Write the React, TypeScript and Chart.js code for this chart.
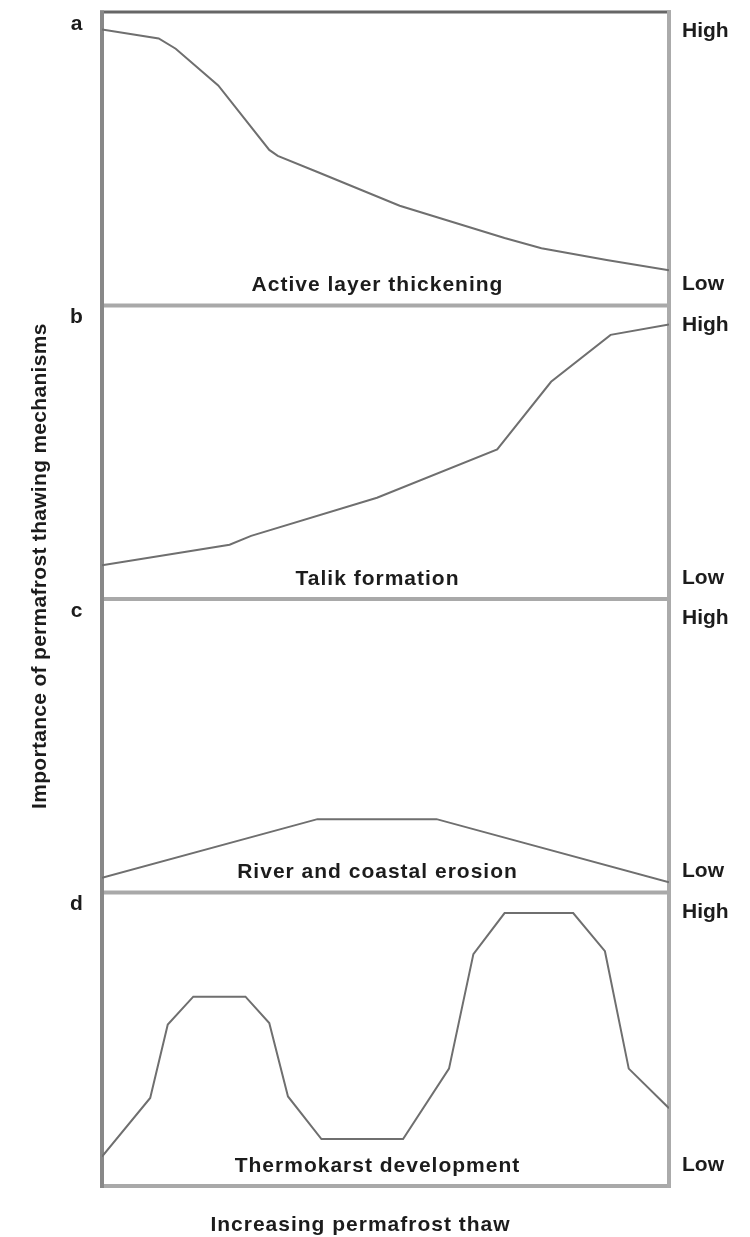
import { useEffect, useRef } from "react";
import { Chart, registerables } from "chart.js";

Chart.register(...registerables);

// Position along the thaw axis (0 = little thaw, 1 = advanced thaw)
// and relative importance (0 = low, 1 = high) for each mechanism.
const activeLayerX = [0, 0.1, 0.13, 0.205, 0.295, 0.31, 0.38, 0.525, 0.71, 0.775, 0.89, 1];
const activeLayerY = [0.94, 0.91, 0.875, 0.75, 0.53, 0.51, 0.455, 0.34, 0.23, 0.195, 0.155, 0.12];

const talikX = [0, 0.225, 0.263, 0.485, 0.697, 0.792, 0.897, 1];
const talikY = [0.115, 0.185, 0.215, 0.345, 0.51, 0.74, 0.9, 0.935];

const erosionX = [0, 0.38, 0.59, 1];
const erosionY = [0.05, 0.25, 0.25, 0.035];

const thermokarstX = [0, 0.085, 0.116, 0.161, 0.253, 0.295, 0.328, 0.387, 0.531, 0.612, 0.655, 0.71, 0.831, 0.887, 0.929, 1];
const thermokarstY = [0.1, 0.3, 0.55, 0.645, 0.645, 0.555, 0.305, 0.16, 0.16, 0.4, 0.79, 0.93, 0.93, 0.8, 0.4, 0.265];

const panelLetters = ["a", "b", "c", "d"];
const panelTitles = [
  "Active layer thickening",
  "Talik formation",
  "River and coastal erosion",
  "Thermokarst development",
];

// Right-hand level marks shared by every panel
const levelTicks = [0.072, 0.934];
const levelLabels = ["Low", "High"];

const yTitle = "Importance of permafrost thawing mechanisms";
const xTitle = "Increasing permafrost thaw";

const FONT = '"Liberation Sans", Arial, Helvetica, sans-serif';
const TEXT = "#1c1c1c";
const LINE = "#6f6f6f";

const series = [
  { xs: activeLayerX, ys: activeLayerY },
  { xs: talikX, ys: talikY },
  { xs: erosionX, ys: erosionY },
  { xs: thermokarstX, ys: thermokarstY },
];
const axisIds = ["yA", "yB", "yC", "yD"];

function strokeSeg(ctx: CanvasRenderingContext2D, x1: number, y1: number, x2: number, y2: number, color: string, w: number) {
  ctx.beginPath();
  ctx.strokeStyle = color;
  ctx.lineWidth = w;
  ctx.moveTo(x1, y1);
  ctx.lineTo(x2, y2);
  ctx.stroke();
}

const panelDecor = {
  id: "panelDecor",
  beforeDatasetsDraw(chart: any) {
    const { ctx, chartArea } = chart;
    const { left, right, top, bottom } = chartArea;
    ctx.save();
    ctx.lineCap = "butt";
    axisIds.forEach((id) => {
      const s = chart.scales[id];
      strokeSeg(ctx, left - 2, s.bottom, right + 2, s.bottom, "#a9a9a9", 4);
    });
    strokeSeg(ctx, left - 2, top, right + 2, top, "#666666", 3);
    strokeSeg(ctx, right, top - 1.5, right, bottom + 2, "#ababab", 4);
    strokeSeg(ctx, left, top - 1.5, left, bottom + 2, "#888888", 4);
    ctx.restore();
  },
  afterDraw(chart: any) {
    const { ctx, chartArea } = chart;
    const { left, right, top, bottom } = chartArea;
    const mid = (left + right) / 2;
    ctx.save();
    ctx.fillStyle = TEXT;
    ctx.textBaseline = "middle";
    ctx.textAlign = "center";
    ctx.font = `bold 21px ${FONT}`;
    (ctx as any).letterSpacing = "1px";
    axisIds.forEach((id, i) => {
      const s = chart.scales[id];
      ctx.fillText(panelLetters[i], left - 25, s.top + 12);
      ctx.fillText(panelTitles[i], mid - 8, s.bottom - 20);
    });
    ctx.fillText(xTitle, mid - 25, bottom + 39);
    (ctx as any).letterSpacing = "0.3px";
    ctx.translate(left - 62, top + (bottom - top) * 0.472);
    ctx.rotate(-Math.PI / 2);
    ctx.fillText(yTitle, 0, 0);
    ctx.restore();
  },
};

export default function App() {
  const canvasRef = useRef<HTMLCanvasElement | null>(null);

  useEffect(() => {
    if (!canvasRef.current) return;

    const scales: any = {
      x: { type: "linear", min: 0, max: 1, display: false },
    };
    axisIds.forEach((id) => {
      scales[id] = {
        type: "linear",
        position: "right",
        stack: "panels",
        stackWeight: 1,
        min: 0,
        max: 1,
        grid: { display: false, drawTicks: false },
        border: { display: false },
        afterBuildTicks: (scale: any) => {
          scale.ticks = levelTicks.map((v) => ({ value: v }));
        },
        afterFit: (scale: any) => {
          scale.width = 81;
          scale.paddingTop = 0;
          scale.paddingBottom = 0;
        },
        ticks: {
          padding: 13,
          color: TEXT,
          font: { family: FONT, size: 21, weight: "bold" },
          callback: (_v: any, index: number) => levelLabels[index],
        },
      };
    });

    const chart = new Chart(canvasRef.current, {
      type: "line",
      data: {
        datasets: series.map((s, i) => ({
          label: panelTitles[i],
          data: s.xs.map((x, k) => ({ x, y: s.ys[k] })),
          xAxisID: "x",
          yAxisID: axisIds[i],
          borderColor: LINE,
          borderWidth: 2,
          pointRadius: 0,
          tension: 0,
          fill: false,
        })),
      },
      options: {
        animation: false,
        responsive: false,
        layout: { padding: { top: 12, bottom: 51, left: 102, right: 0 } },
        plugins: {
          legend: { display: false },
          tooltip: { enabled: false },
        },
        scales,
      },
      plugins: [panelDecor],
    });

    return () => chart.destroy();
  }, []);

  return (
    <div style={{ position: "absolute", left: 0, top: 0, width: 750, height: 1237, background: "#fff" }}>
      <canvas ref={canvasRef} width={750} height={1237} style={{ display: "block" }} />
    </div>
  );
}
